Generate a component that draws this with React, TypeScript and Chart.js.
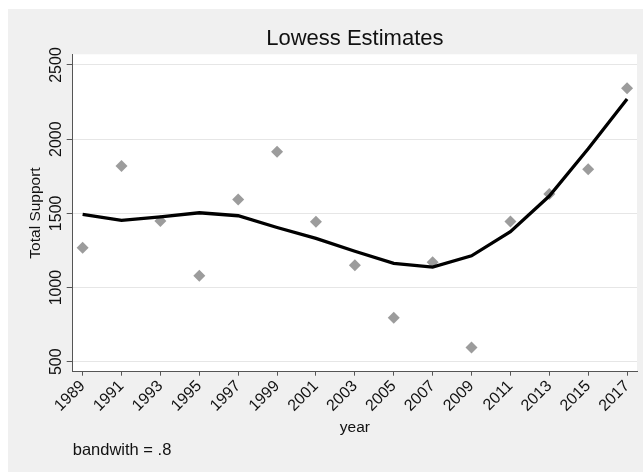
import { Chart, registerables } from 'chart.js';
import type { Plugin } from 'chart.js';
import { useEffect, useRef } from 'react';

Chart.register(...registerables);

const FONT = "'Liberation Sans', Arial, Helvetica, sans-serif";

const YEARS = [
    1989, 1991, 1993, 1995, 1997, 1999, 2001, 2003, 2005, 2007, 2009, 2011,
    2013, 2015, 2017,
];
const SUPPORT = [
    1268, 1819, 1448, 1079, 1594, 1916, 1443, 1151, 796, 1170, 596, 1446,
    1630, 1797, 2343,
];
const LOWESS = [
    1493, 1453, 1477, 1504, 1484, 1405, 1331, 1245, 1163, 1138, 1214, 1376,
    1617, 1935, 2271,
];
const Y_TICKS = [500, 1000, 1500, 2000, 2500];

// white plot region on the grey graph region
const plotBackground: Plugin = {
    id: 'plotBackground',
    beforeDraw(chart) {
        const { ctx, chartArea } = chart;
        ctx.save();
        ctx.fillStyle = '#ffffff';
        ctx.fillRect(
            chartArea.left,
            chartArea.top,
            chartArea.right - chartArea.left,
            chartArea.bottom - chartArea.top,
        );
        ctx.restore();
    },
};

// y tick labels turned 90 degrees, as Stata draws them
const verticalYLabels: Plugin = {
    id: 'verticalYLabels',
    afterDraw(chart) {
        const { ctx, chartArea } = chart;
        const scale = chart.scales.y;
        ctx.save();
        ctx.font = `16px ${FONT}`;
        ctx.fillStyle = '#111';
        ctx.textAlign = 'center';
        ctx.textBaseline = 'middle';
        scale.ticks.forEach((t) => {
            const y = scale.getPixelForValue(t.value);
            ctx.save();
            ctx.translate(chartArea.left - 16.6, y);
            ctx.rotate(-Math.PI / 2);
            ctx.fillText(String(t.value), 0, 0);
            ctx.restore();
        });
        ctx.restore();
    },
};

export default function App() {
    const canvasRef = useRef<HTMLCanvasElement>(null);
    const chartRef = useRef<Chart | null>(null);

    useEffect(() => {
        if (!canvasRef.current) return;
        chartRef.current?.destroy();

        chartRef.current = new Chart(canvasRef.current, {
            type: 'scatter',
            data: {
                datasets: [
                    {
                        type: 'line',
                        label: 'Lowess',
                        data: YEARS.map((x, i) => ({ x, y: LOWESS[i] })),
                        borderColor: '#000000',
                        borderWidth: 3.3,
                        pointRadius: 0,
                        tension: 0,
                        fill: false,
                        order: 0,
                    },
                    {
                        label: 'Total Support',
                        data: YEARS.map((x, i) => ({ x, y: SUPPORT[i] })),
                        pointStyle: 'rectRot',
                        pointRadius: 6,
                        backgroundColor: '#9c9c9c',
                        borderWidth: 0,
                        order: 1,
                    },
                ],
            },
            options: {
                responsive: true,
                maintainAspectRatio: false,
                animation: false,
                layout: { padding: { left: 0, right: 5, top: 0, bottom: 0 } },
                plugins: {
                    legend: { display: false },
                    tooltip: { enabled: false },
                    title: {
                        display: true,
                        text: 'Lowess Estimates',
                        fullSize: false,
                        color: '#111',
                        font: { family: FONT, size: 22, weight: 'normal', lineHeight: 1 },
                        padding: { top: 19.1, bottom: 4.2 },
                    },
                    subtitle: {
                        display: true,
                        text: 'bandwith = .8',
                        position: 'bottom',
                        align: 'start',
                        fullSize: false,
                        color: '#111',
                        font: { family: FONT, size: 16.5, weight: 'normal', lineHeight: 1 },
                        padding: { top: 0, bottom: 13.45 },
                    },
                },
                scales: {
                    x: {
                        type: 'linear',
                        min: 1988.49,
                        max: 2017.51,
                        afterBuildTicks: (s) => {
                            s.ticks = YEARS.map((v) => ({ value: v }));
                        },
                        afterFit: (s) => {
                            s.height = 70.35;
                        },
                        ticks: {
                            callback: (v) => String(v),
                            autoSkip: false,
                            minRotation: 45,
                            maxRotation: 45,
                            padding: 1,
                            color: '#111',
                            font: { family: FONT, size: 16 },
                        },
                        grid: {
                            drawOnChartArea: false,
                            tickLength: 4,
                            tickColor: '#555',
                        },
                        border: { color: '#555', width: 1 },
                        title: {
                            display: true,
                            text: 'year',
                            color: '#111',
                            font: { family: FONT, size: 15.5, lineHeight: 1 },
                            padding: { top: 0, bottom: 6.3 },
                        },
                    },
                    y: {
                        type: 'linear',
                        min: 433,
                        max: 2572,
                        afterBuildTicks: (s) => {
                            s.ticks = Y_TICKS.map((v) => ({ value: v }));
                        },
                        afterFit: (s) => {
                            s.width = 64.7;
                        },
                        ticks: { display: false },
                        grid: {
                            color: '#e6e6e6',
                            lineWidth: 1,
                            tickLength: 6,
                            tickColor: '#555',
                        },
                        border: { color: '#555', width: 1 },
                        title: {
                            display: true,
                            text: 'Total Support',
                            color: '#111',
                            font: { family: FONT, size: 15.5, lineHeight: 1 },
                            padding: { top: 19.85, bottom: 0 },
                        },
                    },
                },
            },
            plugins: [plotBackground, verticalYLabels],
        });

        return () => {
            chartRef.current?.destroy();
            chartRef.current = null;
        };
    }, []);

    return (
        <div
            style={{
                position: 'absolute',
                left: 8,
                top: 9,
                width: 635,
                height: 463,
                background: '#f0f0f0',
            }}
        >
            <canvas ref={canvasRef} />
        </div>
    );
}
